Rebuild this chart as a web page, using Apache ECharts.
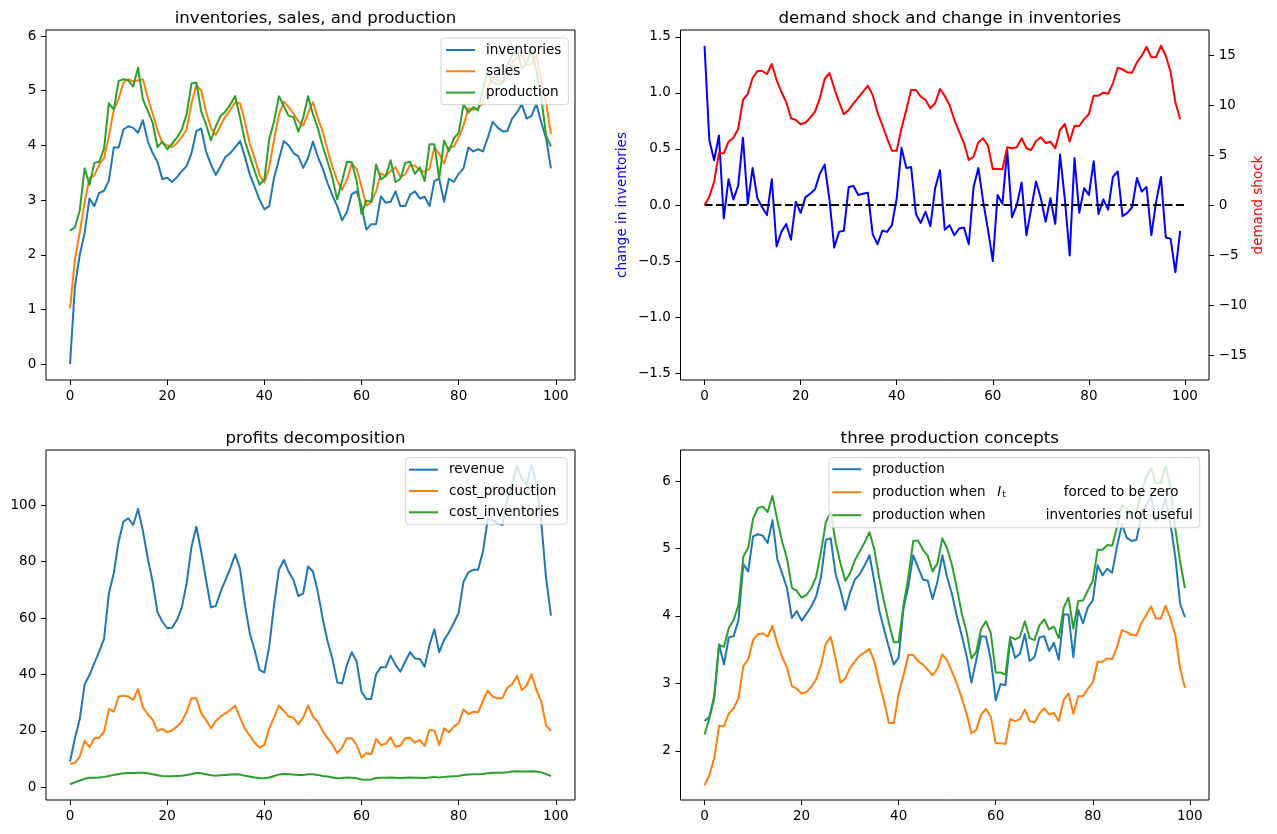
<!DOCTYPE html>
<html lang="en">
<head>
<meta charset="UTF-8">
<title>Inventories, sales and production</title>
<script src="https://cdn.jsdelivr.net/npm/echarts@6/dist/echarts.min.js"></script>
<style>
  html, body { margin: 0; padding: 0; background: #fff; }
  #main { width: 1277px; height: 834px; }
</style>
</head>
<body>
<div id="main"></div>
<script>
// period index 0..99
var t = [];
for (var i = 0; i < 100; i++) t.push(i);

var inventories = [
  0.00, 1.42, 2.00, 2.40, 3.03, 2.89, 3.13, 3.17, 3.36, 3.96,
  3.96, 4.29, 4.35, 4.32, 4.23, 4.46, 4.08, 3.86, 3.70, 3.38,
  3.41, 3.33, 3.42, 3.53, 3.62, 3.86, 4.26, 4.31, 3.89, 3.65,
  3.46, 3.62, 3.79, 3.86, 3.97, 4.08, 3.79, 3.47, 3.24, 3.01,
  2.83, 2.89, 3.41, 3.74, 4.08, 4.00, 3.86, 3.80, 3.59, 3.77,
  4.07, 3.79, 3.58, 3.31, 3.09, 2.89, 2.63, 2.78, 3.11, 3.16,
  2.89, 2.46, 2.56, 2.56, 3.07, 2.95, 2.97, 3.16, 2.89, 2.89,
  3.10, 3.16, 3.03, 3.06, 2.89, 3.35, 3.39, 2.97, 3.39, 3.33,
  3.48, 3.58, 3.96, 3.89, 3.93, 3.89, 4.14, 4.43, 4.33, 4.26,
  4.26, 4.49, 4.60, 4.75, 4.49, 4.54, 4.76, 4.42, 4.13, 3.58
];
var sales = [
  1.02, 1.92, 2.41, 2.96, 3.40, 3.45, 3.65, 3.77, 4.17, 4.65,
  4.85, 5.15, 5.21, 5.17, 5.19, 5.21, 4.87, 4.58, 4.28, 4.04,
  4.00, 3.97, 4.04, 4.15, 4.29, 4.77, 5.10, 5.00, 4.62, 4.32,
  4.19, 4.37, 4.53, 4.65, 4.79, 4.77, 4.43, 4.03, 3.77, 3.46,
  3.32, 3.60, 4.11, 4.56, 4.80, 4.70, 4.58, 4.44, 4.36, 4.59,
  4.79, 4.50, 4.26, 3.92, 3.61, 3.36, 3.19, 3.37, 3.66, 3.57,
  3.25, 2.90, 2.96, 3.16, 3.49, 3.44, 3.53, 3.60, 3.42, 3.47,
  3.64, 3.63, 3.54, 3.52, 3.57, 3.97, 3.84, 3.67, 3.96, 3.98,
  4.14, 4.36, 4.68, 4.65, 4.68, 4.78, 5.06, 5.26, 5.18, 5.15,
  5.23, 5.52, 5.61, 5.67, 5.47, 5.49, 5.66, 5.18, 4.78, 4.21
];
var production = [
  2.44, 2.50, 2.81, 3.58, 3.28, 3.68, 3.70, 3.94, 4.77, 4.66,
  5.18, 5.21, 5.19, 5.08, 5.42, 4.84, 4.63, 4.41, 3.97, 4.07,
  3.93, 4.03, 4.14, 4.29, 4.57, 5.13, 5.15, 4.62, 4.38, 4.09,
  4.35, 4.54, 4.62, 4.75, 4.90, 4.51, 4.08, 3.80, 3.53, 3.28,
  3.38, 4.11, 4.44, 4.90, 4.72, 4.54, 4.52, 4.25, 4.51, 4.90,
  4.57, 4.32, 3.99, 3.71, 3.41, 3.01, 3.35, 3.70, 3.69, 3.35,
  2.75, 2.99, 2.97, 3.65, 3.38, 3.44, 3.73, 3.33, 3.39, 3.68,
  3.70, 3.48, 3.60, 3.35, 4.02, 4.02, 3.39, 4.09, 3.89, 4.13,
  4.23, 4.75, 4.60, 4.70, 4.64, 5.03, 5.36, 5.16, 5.11, 5.13,
  5.47, 5.64, 5.77, 5.40, 5.50, 5.74, 5.37, 4.88, 4.18, 3.98
];
var changeInInventories = [
  1.42, 0.58, 0.40, 0.62, -0.12, 0.23, 0.05, 0.17, 0.60, 0.01,
  0.33, 0.06, -0.02, -0.09, 0.23, -0.37, -0.24, -0.17, -0.31, 0.03,
  -0.07, 0.07, 0.10, 0.14, 0.28, 0.36, 0.05, -0.38, -0.24, -0.23,
  0.16, 0.17, 0.09, 0.10, 0.11, -0.26, -0.35, -0.23, -0.24, -0.18,
  0.06, 0.51, 0.33, 0.34, -0.08, -0.16, -0.06, -0.19, 0.15, 0.31,
  -0.22, -0.18, -0.27, -0.21, -0.20, -0.35, 0.16, 0.33, 0.03, -0.22,
  -0.50, 0.09, 0.01, 0.49, -0.11, 0.00, 0.20, -0.27, -0.03, 0.21,
  0.06, -0.15, 0.06, -0.17, 0.45, 0.05, -0.45, 0.42, -0.07, 0.15,
  0.09, 0.39, -0.08, 0.05, -0.04, 0.25, 0.30, -0.10, -0.07, -0.02,
  0.24, 0.12, 0.16, -0.27, 0.03, 0.25, -0.29, -0.30, -0.60, -0.23
];
var demandShock = [
  0.00, 0.83, 2.33, 5.17, 5.17, 6.33, 6.73, 7.60, 10.50, 11.10,
  12.70, 13.40, 13.40, 13.10, 14.10, 12.50, 11.30, 10.30, 8.67, 8.50,
  8.07, 8.23, 8.73, 9.33, 10.67, 12.60, 13.20, 11.67, 10.30, 9.07,
  9.50, 10.17, 10.73, 11.33, 11.93, 11.00, 9.27, 8.00, 6.67, 5.43,
  5.43, 7.67, 9.50, 11.50, 11.50, 10.83, 10.50, 9.67, 10.17, 11.60,
  10.90, 10.00, 8.50, 7.33, 6.17, 4.50, 4.83, 6.27, 6.67, 5.93,
  3.60, 3.60, 3.57, 5.77, 5.67, 5.77, 6.67, 5.67, 5.50, 6.40,
  6.77, 6.20, 6.33, 5.67, 7.50, 8.10, 6.33, 7.93, 7.90, 8.57,
  9.10, 10.93, 10.93, 11.23, 11.13, 12.17, 13.73, 13.57, 13.27, 13.23,
  14.27, 14.93, 15.80, 14.77, 14.80, 15.93, 14.93, 13.33, 10.27, 8.57
];
var zeroLineX = [0, 100];
var zeroLineY = [0, 0];

var revenue = [
  9.1, 17.4, 24.2, 36.5, 39.8, 44.0, 48.1, 52.6, 68.8, 75.9,
  87.1, 94.2, 95.4, 93.0, 98.7, 90.9, 81.2, 72.9, 62.1, 58.7,
  56.4, 56.6, 59.3, 63.7, 72.3, 85.3, 92.4, 83.6, 73.5, 63.8,
  64.3, 69.4, 73.5, 77.7, 82.6, 77.4, 64.7, 54.6, 48.7, 41.6,
  40.7, 49.9, 64.7, 77.1, 80.6, 76.5, 73.5, 67.8, 68.8, 78.3,
  76.5, 69.4, 59.9, 51.9, 45.7, 37.2, 36.8, 43.4, 47.9, 44.6,
  33.9, 31.3, 31.3, 40.1, 42.6, 42.6, 46.7, 43.4, 41.0, 44.6,
  47.9, 45.7, 45.5, 42.8, 50.5, 56.0, 47.9, 52.2, 55.0, 58.2,
  61.9, 72.9, 76.2, 77.1, 77.1, 83.6, 95.2, 94.8, 93.6, 93.0,
  101.9, 107.2, 114.1, 109.5, 107.2, 114.1, 107.8, 94.2, 74.1, 60.9
];
var costProduction = [
  8.3, 8.7, 10.9, 16.5, 14.2, 17.4, 17.6, 19.7, 27.8, 26.8,
  32.2, 32.5, 32.2, 31.0, 34.9, 28.4, 25.9, 23.9, 20.0, 20.7,
  19.5, 20.3, 21.5, 23.3, 26.8, 31.6, 31.6, 26.2, 23.9, 20.9,
  23.5, 25.1, 26.2, 27.4, 29.0, 24.7, 20.7, 18.3, 15.8, 14.1,
  15.0, 20.9, 24.7, 29.0, 27.1, 25.1, 24.7, 22.3, 24.7, 29.0,
  25.1, 23.3, 20.0, 17.4, 15.2, 12.1, 14.1, 17.4, 17.4, 15.0,
  10.5, 12.1, 11.7, 17.1, 15.0, 15.5, 17.7, 14.4, 14.8, 17.4,
  17.6, 15.8, 16.8, 14.7, 20.3, 20.1, 15.0, 20.9, 19.5, 21.5,
  22.7, 27.7, 25.9, 26.8, 26.6, 30.6, 34.3, 32.2, 31.6, 31.6,
  35.3, 36.5, 39.5, 34.5, 36.1, 40.1, 34.5, 30.4, 21.9, 20.0
];
var costInventories = [
  1.1, 1.8, 2.4, 3.0, 3.4, 3.4, 3.5, 3.7, 4.0, 4.4,
  4.7, 5.0, 5.1, 5.1, 5.2, 5.2, 5.0, 4.6, 4.3, 4.0,
  3.9, 3.9, 4.0, 4.1, 4.4, 4.7, 5.1, 5.0, 4.6, 4.3,
  4.1, 4.3, 4.4, 4.5, 4.6, 4.5, 4.1, 3.8, 3.5, 3.3,
  3.2, 3.5, 4.0, 4.5, 4.7, 4.6, 4.5, 4.4, 4.4, 4.6,
  4.6, 4.4, 4.0, 3.8, 3.5, 3.2, 3.3, 3.5, 3.4, 3.2,
  2.8, 2.7, 2.8, 3.3, 3.4, 3.4, 3.5, 3.4, 3.3, 3.4,
  3.5, 3.4, 3.4, 3.3, 3.5, 3.7, 3.5, 3.7, 3.8, 3.9,
  4.0, 4.4, 4.5, 4.6, 4.6, 4.7, 5.0, 5.2, 5.2, 5.2,
  5.3, 5.6, 5.7, 5.6, 5.6, 5.7, 5.6, 5.3, 4.7, 4.0
];

var productionZeroInventories = [
  1.49, 1.64, 1.89, 2.37, 2.36, 2.55, 2.63, 2.78, 3.26, 3.35,
  3.64, 3.73, 3.74, 3.69, 3.85, 3.59, 3.39, 3.23, 2.96, 2.92,
  2.85, 2.87, 2.95, 3.06, 3.27, 3.59, 3.69, 3.37, 3.01, 3.07,
  3.23, 3.33, 3.41, 3.46, 3.51, 3.32, 3.01, 2.73, 2.41, 2.41,
  2.85, 3.12, 3.42, 3.42, 3.33, 3.28, 3.20, 3.12, 3.22, 3.43,
  3.34, 3.17, 3.00, 2.78, 2.55, 2.26, 2.31, 2.54, 2.62, 2.50,
  2.11, 2.11, 2.10, 2.47, 2.44, 2.47, 2.61, 2.44, 2.42, 2.55,
  2.63, 2.54, 2.56, 2.44, 2.75, 2.85, 2.55, 2.81, 2.81, 2.92,
  3.01, 3.32, 3.32, 3.37, 3.36, 3.54, 3.79, 3.76, 3.72, 3.71,
  3.89, 4.01, 4.14, 3.96, 3.96, 4.15, 3.96, 3.72, 3.22, 2.93
];
var productionNotUseful = [
  2.24, 2.48, 2.78, 3.57, 3.54, 3.82, 3.94, 4.16, 4.88, 5.01,
  5.44, 5.60, 5.62, 5.54, 5.78, 5.42, 5.10, 4.85, 4.42, 4.37,
  4.27, 4.31, 4.41, 4.58, 4.95, 5.39, 5.54, 5.10, 4.78, 4.52,
  4.63, 4.83, 4.96, 5.09, 5.24, 4.98, 4.56, 4.21, 3.89, 3.61,
  3.61, 4.16, 4.58, 5.11, 5.12, 4.98, 4.89, 4.66, 4.78, 5.15,
  5.00, 4.75, 4.41, 4.04, 3.76, 3.37, 3.47, 3.81, 3.92, 3.74,
  3.16, 3.16, 3.13, 3.69, 3.65, 3.69, 3.92, 3.67, 3.64, 3.86,
  3.95, 3.80, 3.84, 3.67, 4.12, 4.27, 3.81, 4.22, 4.23, 4.38,
  4.52, 4.98, 4.98, 5.05, 5.04, 5.32, 5.64, 5.58, 5.52, 5.53,
  5.84, 6.05, 6.19, 5.97, 5.97, 6.22, 5.94, 5.30, 4.80, 4.41
];

var xTicks = [0, 20, 40, 60, 80, 100];
var yTicksTL = [0, 1, 2, 3, 4, 5, 6];
var yTicksTRLeft = [-1.5, -1.0, -0.5, 0, 0.5, 1.0, 1.5];
var yTicksTRRight = [-15, -10, -5, 0, 5, 10, 15];
var yTicksBL = [0, 20, 40, 60, 80, 100];
var yTicksBR = [2, 3, 4, 5, 6];

var FONT = 'DejaVu Sans';
var FS = 13.5;
var C = ['#1f77b4', '#ff7f0e', '#2ca02c'];

function pairs(xs, ys) {
  return ys.map(function (y, k) { return [xs[k], y]; });
}
function minus(v) { return String(v).replace('-', '\u2212'); }

function axis(gridIndex, min, max, ticks, fmt, extra) {
  var a = {
    type: 'value', gridIndex: gridIndex, min: min, max: max,
    axisLine: { show: false, onZero: false },
    splitLine: { show: false },
    axisTick: { show: true, length: 5, customValues: ticks, lineStyle: { color: '#000', width: 1 } },
    axisLabel: { customValues: ticks, margin: 9.7, color: '#000', fontSize: FS, fontFamily: FONT, formatter: fmt || minus }
  };
  return Object.assign(a, extra || {});
}

function line(name, xi, yi, xs, ys, color, extra) {
  return Object.assign({
    type: 'line', name: name, xAxisIndex: xi, yAxisIndex: yi,
    data: pairs(xs, ys), symbol: 'none', silent: true, animation: false,
    lineStyle: { color: color, width: 2, join: 'round' },
    itemStyle: { color: color }
  }, extra || {});
}

function legend(names, left, top, padding, gap, fmt, rich) {
  return {
    data: names, orient: 'vertical', left: left, top: top,
    icon: 'rect', itemWidth: 29, itemHeight: 2, itemGap: gap,
    padding: padding, selectedMode: false,
    backgroundColor: 'rgba(255,255,255,0.8)',
    borderColor: 'rgba(204,204,204,0.8)', borderWidth: 1, borderRadius: 3,
    itemStyle: { borderWidth: 0 },
    formatter: fmt,
    textStyle: { fontSize: FS, fontFamily: FONT, color: '#000', lineHeight: 14, padding: [0, 0, 0, 6], rich: rich }
  };
}

function title(text, x, y) {
  return {
    text: text, left: x, top: y, textAlign: 'center',
    textStyle: { fontSize: 16.6, fontWeight: 'normal', fontFamily: FONT, color: '#000' }
  };
}

var rich4 = {
  a: { fontSize: FS, fontFamily: FONT, lineHeight: 14 },
  w: { fontSize: FS, fontFamily: FONT, lineHeight: 14, width: 125 },
  w2: { fontSize: FS, fontFamily: FONT, lineHeight: 14, width: 173.4 },
  i: { fontSize: FS, fontFamily: FONT, lineHeight: 14, fontStyle: 'italic', width: 5 },
  s: { fontSize: 9.5, fontFamily: FONT, lineHeight: 10, padding: [4, 0, 0, 0], width: 61.5 },
  b: { fontSize: FS, fontFamily: FONT, lineHeight: 14 }
};
function fmt4(name) {
  if (name === 'prod4') return '{a|production}';
  if (name === 'prodZero') return '{w|production when}{i|I}{s|t}{b|forced to be zero}';
  return '{w2|production when}{b|inventories not useful}';
}

var chart = echarts.init(document.getElementById('main'), null, { renderer: 'canvas' });
var option = {
  animation: false,
  backgroundColor: '#fff',
  textStyle: { fontFamily: FONT },
  title: [
    title('inventories, sales, and production', 310.5, 5),
    title('demand shock and change in inventories', 944.8, 5),
    title('profits decomposition', 310.5, 425),
    title('three production concepts', 944.8, 425)
  ],
  grid: [
    { left: 46, top: 30, width: 529, height: 350, show: true, borderColor: '#000', borderWidth: 1 },
    { left: 680.5, top: 30, width: 528.5, height: 350, show: true, borderColor: '#000', borderWidth: 1 },
    { left: 46, top: 450, width: 529, height: 350, show: true, borderColor: '#000', borderWidth: 1 },
    { left: 680.5, top: 450, width: 528.5, height: 350, show: true, borderColor: '#000', borderWidth: 1 }
  ],
  xAxis: [
    axis(0, -4.95, 103.95, xTicks),
    axis(1, -5, 105, xTicks),
    axis(2, -4.95, 103.95, xTicks),
    axis(3, -4.95, 103.95, xTicks)
  ],
  yAxis: [
    axis(0, -0.29, 6.11, yTicksTL),
    axis(1, -1.562, 1.562, yTicksTRLeft, function (v) { return minus(v.toFixed(1)); }, {
      name: 'change in inventories', nameLocation: 'middle', nameGap: 51, nameRotate: 90,
      nameTextStyle: { color: '#0000ff', fontSize: FS, fontFamily: FONT }
    }),
    axis(1, -17.5, 17.5, yTicksTRRight, minus, {
      position: 'right', name: 'demand shock', nameLocation: 'middle', nameGap: 42, nameRotate: 90,
      nameTextStyle: { color: '#ff0000', fontSize: FS, fontFamily: FONT }
    }),
    axis(2, -4.5, 119.6, yTicksBL),
    axis(3, 1.27, 6.46, yTicksBR)
  ],
  legend: [
    legend(['inventories', 'sales', 'production'], 441, 38, [5, 7, 5, 5], 7.3),
    legend(['revenue', 'cost_production', 'cost_inventories'], 405.7, 457.7, [5, 8, 5, 3.3], 7.3),
    legend(['prod4', 'prodZero', 'prodNotUseful'], 829, 457.7, [4.5, 7, 5.5, 3.3], 9, fmt4, rich4)
  ],
  series: [
    line('inventories', 0, 0, t, inventories, C[0]),
    line('sales', 0, 0, t, sales, C[1]),
    line('production', 0, 0, t, production, C[2]),

    line('change in inventories', 1, 1, t, changeInInventories, '#0000ff'),
    line('zero', 1, 1, zeroLineX, zeroLineY, '#000', { lineStyle: { color: '#000', width: 2, type: [8, 3.5] } }),
    line('demand shock', 1, 2, t, demandShock, '#ff0000'),

    line('revenue', 2, 3, t, revenue, C[0]),
    line('cost_production', 2, 3, t, costProduction, C[1]),
    line('cost_inventories', 2, 3, t, costInventories, C[2]),

    line('prod4', 3, 4, t, production, C[0]),
    line('prodZero', 3, 4, t, productionZeroInventories, C[1]),
    line('prodNotUseful', 3, 4, t, productionNotUseful, C[2])
  ]
};
chart.setOption(option);
</script>
</body>
</html>
